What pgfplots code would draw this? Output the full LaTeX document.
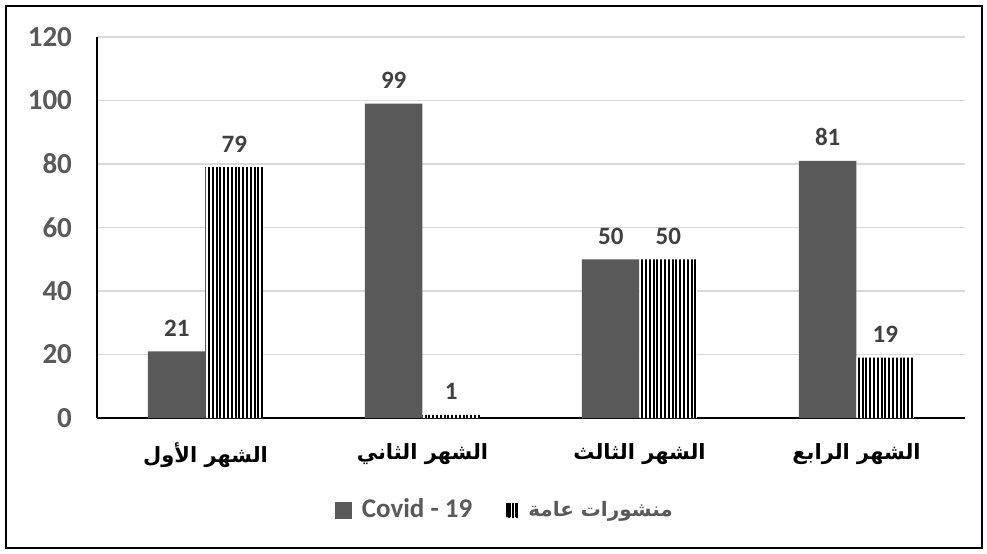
\documentclass[border=0pt]{standalone}
\usepackage{fontspec}
\setmainfont{Carlito}
\newfontfamily\arabicfont[Script=Arabic]{DejaVu Sans}
\TeXXeTstate=1
\usepackage{pgfplots}
\pgfplotsset{compat=1.18}
\usetikzlibrary{patterns.meta}
\definecolor{barGray}{HTML}{595959}
\definecolor{tickGray}{HTML}{595959}
\definecolor{lblGray}{HTML}{404040}
\definecolor{gridGray}{HTML}{D9D9D9}
\begin{document}
\begin{tikzpicture}
\useasboundingbox (-48.5pt,-67.5pt) rectangle (445pt,209pt);
\draw[line width=0.9pt] (-45.5pt,-65pt) rectangle (442.5pt,206pt);
\begin{axis}[
  at={(0pt,0pt)}, anchor=south west,
  scale only axis, width=434pt, height=190.5pt,
  /pgf/number format/assume math mode=true,
  ybar=0pt, bar width=28.75pt,
  xmin=-0.5, xmax=3.5, ymin=0, ymax=120,
  xtick={0,1,2,3},
  xticklabels={{\arabicfont\beginR الشهر الأول\endR},{\arabicfont\beginR الشهر الثاني\endR},{\arabicfont\beginR الشهر الثالث\endR},{\arabicfont\beginR الشهر الرابع\endR}},
  ytick={0,20,...,120},
  axis x line*=bottom, axis y line*=left,
  axis line style={black, line width=0.75pt, -},
  major tick length=0pt,
  ymajorgrids, grid style={gridGray, line width=0.75pt},
  yticklabel style={font=\bfseries\fontsize{14.5}{15}\selectfont, color=tickGray, xshift=-9pt},
  xticklabel style={font=\bfseries\fontsize{10.5}{12}\selectfont, color=black, yshift=-9pt},
  nodes near coords,
  nodes near coords style={font=\bfseries\fontsize{12.5}{13}\selectfont, color=lblGray, yshift=4pt},
  clip=false,
  legend columns=2,
  legend style={at={(0.471,-0.2415)}, anchor=center, draw=none, fill=none,
    font=\bfseries\fontsize{13.5}{14}\selectfont, text=tickGray,
    /tikz/every odd column/.append style={column sep=3pt},
    /tikz/every even column/.append style={column sep=15pt}},
]
\addplot[fill=barGray, draw=none,
  legend image code/.code={\fill[barGray] (0pt,-4.25pt) rectangle (8.5pt,4.25pt);}]
  coordinates {(0,21) (1,99) (2,50) (3,81)};
\addplot[fill=white, draw=none, postaction={pattern={Lines[angle=90,distance=1.9pt,line width=1pt]}},
  legend image code/.code={\fill[white] (0pt,-3.5pt) rectangle (6pt,3.5pt);
    \foreach \xx in {0.5,2,3.5,5}{\fill[black] (\xx pt-0.5pt,-3.5pt) rectangle (\xx pt+0.5pt,3.5pt);}}]
  coordinates {(0,79) (1,1) (2,50) (3,19)};
\legend{Covid - 19,{\arabicfont\fontsize{10}{12}\selectfont\beginR منشورات عامة\endR}}
\end{axis}
\end{tikzpicture}
\end{document}
